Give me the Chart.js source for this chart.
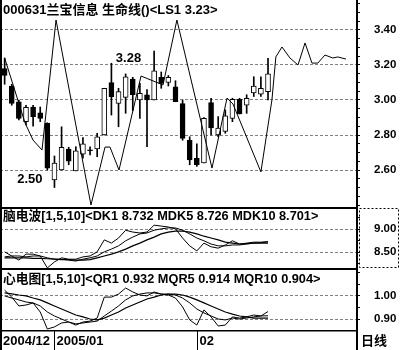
<!DOCTYPE html>
<html>
<head>
<meta charset="utf-8">
<script src="https://cdn.jsdelivr.net/npm/chart.js@4.4.1/dist/chart.umd.min.js"></script>
<style>
  html, body { margin: 0; padding: 0; background: #fff; }
  #wrap { position: relative; width: 400px; height: 350px; overflow: hidden; background: #fff; }
  canvas { position: absolute; left: 0; display: block; }
</style>
</head>
<body>
<div id="wrap">
  <canvas id="priceChart" width="400" height="207" style="top:0"></canvas>
  <canvas id="dkChart" width="400" height="61" style="top:207px"></canvas>
  <canvas id="qrChart" width="400" height="82" style="top:268px"></canvas>
</div>
<script>
// daily candles, one per trading day
const opens  = [3.18, 3.08, 2.99, 2.876, 2.96, 2.927, 2.867, 2.543, 2.60, 2.72, 2.595, 2.69, 2.71, 2.72, 2.80, 3.10, 2.98, 3.015, 3.12, 3.00, 3.03, 3.00, 3.13, 3.10, 3.075, 2.98, 2.77, 2.667, 2.64, 2.985, 2.80, 2.82, 2.895, 3.004, 2.97, 3.04, 3.034, 3.047];
const closes = [3.14, 2.98, 2.895, 2.958, 2.905, 2.895, 2.61, 2.64, 2.73, 2.65, 2.71, 2.75, 2.71, 2.79, 3.067, 3.019, 3.048, 3.133, 3.03, 3.038, 3.00, 3.167, 3.095, 3.13, 2.99, 2.78, 2.657, 2.63, 2.895, 2.84, 2.84, 2.91, 3.004, 2.92, 3.01, 3.08, 3.067, 3.149];
const highs  = [3.24, 3.09, 3.00, 2.97, 2.97, 2.96, 2.87, 2.68, 2.847, 2.73, 2.733, 2.785, 2.733, 2.81, 3.067, 3.21, 3.067, 3.149, 3.13, 3.095, 3.06, 3.28, 3.16, 3.14, 3.11, 3.00, 2.79, 2.75, 2.90, 3.01, 2.905, 2.943, 3.01, 3.01, 3.03, 3.133, 3.133, 3.238];
const lows   = [3.09, 2.97, 2.886, 2.857, 2.85, 2.876, 2.60, 2.50, 2.60, 2.63, 2.595, 2.667, 2.686, 2.676, 2.80, 2.914, 2.847, 2.924, 2.94, 2.895, 2.733, 3.00, 3.067, 3.08, 2.99, 2.77, 2.63, 2.62, 2.64, 2.80, 2.79, 2.81, 2.876, 2.92, 2.924, 3.02, 3.02, 3.00];

// 生命线 vertices (day position, price) - runs past the last candle
const lifeIdx = [0, 2.87, 3.99, 5.25, 7.22, 12.13, 14.1, 14.8, 16.07, 19.16, 22.25, 24.2, 29.13, 31.24, 32.08, 36.0, 37.55, 38.1, 38.96, 40.08, 41.21, 42.2, 43.17, 44.0, 45.0, 46.1, 46.8, 47.95];
const lifeVal = [3.24, 2.869, 2.771, 2.714, 3.457, 2.40, 2.731, 2.731, 2.60, 3.137, 3.086, 3.457, 2.611, 3.011, 2.977, 2.589, 3.0, 3.246, 3.303, 3.24, 3.20, 3.326, 3.211, 3.211, 3.257, 3.24, 3.246, 3.234];

// 脑电波
const dk1   = [8.51, 8.42, 8.33, 8.46, 8.46, 8.42, 8.16, 8.29, 8.38, 8.35, 8.35, 8.40, 8.42, 8.51, 8.77, 8.70, 8.81, 8.98, 8.94, 8.92, 8.94, 9.09, 9.07, 9.05, 9.01, 8.81, 8.64, 8.53, 8.70, 8.62, 8.59, 8.66, 8.75, 8.68, 8.70, 8.72, 8.72, 8.732];
const mdk5  = [8.40, 8.42, 8.42, 8.40, 8.42, 8.42, 8.38, 8.35, 8.35, 8.33, 8.31, 8.35, 8.38, 8.42, 8.51, 8.57, 8.64, 8.75, 8.83, 8.90, 8.92, 8.98, 9.01, 9.03, 9.03, 8.98, 8.90, 8.81, 8.75, 8.68, 8.64, 8.64, 8.66, 8.66, 8.68, 8.70, 8.71, 8.726];
const mdk10 = [8.38, 8.38, 8.38, 8.38, 8.37, 8.37, 8.36, 8.35, 8.34, 8.34, 8.33, 8.33, 8.34, 8.38, 8.42, 8.46, 8.51, 8.57, 8.64, 8.70, 8.77, 8.83, 8.90, 8.94, 8.96, 8.96, 8.94, 8.90, 8.85, 8.81, 8.77, 8.72, 8.70, 8.68, 8.69, 8.70, 8.70, 8.701];

// 心电图
const qr1   = [1.024, 0.994, 0.956, 0.96, 0.969, 0.93, 0.857, 0.866, 0.883, 0.887, 0.874, 0.887, 0.891, 0.904, 0.994, 0.994, 1.007, 1.033, 1.016, 1.003, 0.999, 1.016, 1.007, 1.003, 0.99, 0.952, 0.896, 0.874, 0.939, 0.909, 0.87, 0.874, 0.909, 0.904, 0.909, 0.917, 0.913, 0.932];
const mqr5  = [0.999, 0.99, 0.982, 0.973, 0.969, 0.956, 0.93, 0.913, 0.90, 0.887, 0.879, 0.883, 0.887, 0.891, 0.913, 0.934, 0.956, 0.982, 0.999, 1.007, 1.012, 1.012, 1.007, 1.007, 1.003, 0.99, 0.969, 0.943, 0.926, 0.913, 0.90, 0.896, 0.904, 0.90, 0.904, 0.909, 0.913, 0.914];
const mqr10 = [1.012, 1.008, 1.003, 0.999, 0.99, 0.982, 0.969, 0.956, 0.943, 0.93, 0.917, 0.909, 0.90, 0.896, 0.904, 0.917, 0.93, 0.947, 0.96, 0.973, 0.986, 0.994, 1.003, 1.007, 1.007, 1.003, 0.994, 0.982, 0.969, 0.956, 0.943, 0.93, 0.921, 0.913, 0.909, 0.904, 0.904, 0.904];

// axis labels
const priceTicks = [2.6, 2.8, 3.0, 3.2, 3.4];
const dkTicks = [8.5, 9.0];
const qrTicks = [0.9, 1.0];
const dateLabels = ['2004/12', '2005/01', '02'];
const dateStarts = [0, 7, 27];
const stockCode = '000631';
const stockName = '兰宝信息';

const FONT_STACK = '"Liberation Sans", "Noto Sans CJK SC", sans-serif';
const TITLE_FONT = 'bold 13px ' + FONT_STACK;
const TEXT_FONT = 'bold 12.75px ' + FONT_STACK;
const last = a => a[a.length - 1];

const xAxis = { type: 'linear', display: false, min: -0.65, max: 49.5, offset: false };

function rightAxis(min, max, majors, minorStep) {
  const isMajor = v => majors.some(m => Math.abs(m - v) < 1e-6);
  return {
    position: 'right',
    min: min,
    max: max,
    afterBuildTicks(scale) {
      const list = [];
      for (let k = Math.ceil(min / minorStep - 1e-9); k * minorStep <= max + 1e-9; k++) {
        list.push({ value: +(k * minorStep).toFixed(4) });
      }
      scale.ticks = list;
    },
    afterFit(scale) {
      scale.width = 43;
      scale.paddingTop = 0;
      scale.paddingBottom = 0;
    },
    ticks: {
      autoSkip: false,
      padding: 14,
      color: '#000',
      font: { family: '"Liberation Sans", sans-serif', size: 11.5, weight: 'bold' },
      callback: v => isMajor(v) ? v.toFixed(2) : ''
    },
    grid: {
      color: c => isMajor(c.tick.value) ? '#808080' : 'rgba(0,0,0,0)',
      tickColor: '#000',
      tickLength: 3,
      lineWidth: 1
    },
    border: { display: true, color: '#000', width: 2, dash: [3, 2] }
  };
}

// frame, title and extra decorations of one pane
function paneDecor(title, titleFont, titleY, topLine, extra) {
  return {
    id: 'paneDecor',
    afterDraw(chart) {
      const { ctx, chartArea: a } = chart;
      ctx.save();
      ctx.strokeStyle = '#000';
      ctx.fillStyle = '#000';
      ctx.lineWidth = 2;
      ctx.beginPath(); ctx.moveTo(1, 0); ctx.lineTo(1, chart.height); ctx.stroke();
      if (topLine) {
        ctx.beginPath(); ctx.moveTo(0, 1); ctx.lineTo(a.right, 1); ctx.stroke();
      }
      ctx.font = titleFont;
      ctx.textAlign = 'left';
      ctx.textBaseline = 'middle';
      ctx.fillText(title, 3, titleY);
      if (extra) extra(chart, ctx);
      ctx.restore();
    }
  };
}

// high / low markers on the candle pane
function drawExtremes(chart, ctx) {
  const { x, y } = chart.scales;
  const hi = Math.max(...highs), lo = Math.min(...lows);
  const hiIdx = highs.indexOf(hi), loIdx = lows.indexOf(lo);
  ctx.font = 'bold 13px "Liberation Sans", sans-serif';
  ctx.textAlign = 'right';
  ctx.textBaseline = 'alphabetic';
  ctx.fillText(hi.toFixed(2), x.getPixelForValue(hiIdx) - 13, y.getPixelForValue(hi) + 11);
  ctx.fillText(lo.toFixed(2), x.getPixelForValue(loIdx) - 12, y.getPixelForValue(lo) - 5);
}

function drawDotBox(chart, ctx) {
  ctx.lineWidth = 1;
  ctx.setLineDash([2, 2]);
  ctx.strokeRect(359.5, 1.5, 39, 59);
  ctx.setLineDash([]);
}

function drawDates(chart, ctx) {
  const a = chart.chartArea, x = chart.scales.x;
  ctx.lineWidth = 1.5;
  ctx.beginPath(); ctx.moveTo(0, a.bottom + 0.75); ctx.lineTo(a.right, a.bottom + 0.75); ctx.stroke();
  ctx.lineWidth = 2;
  ctx.beginPath(); ctx.moveTo(a.right, a.bottom); ctx.lineTo(a.right, chart.height); ctx.stroke();
  const ty = (a.bottom + chart.height) / 2 + 1;
  ctx.font = TITLE_FONT;
  ctx.textAlign = 'left';
  ctx.textBaseline = 'middle';
  dateLabels.forEach((lab, k) => {
    let px = 3;
    if (dateStarts[k] > 0) {
      px = Math.round(x.getPixelForValue(dateStarts[k])) + 0.5;
      ctx.lineWidth = 1;
      ctx.beginPath(); ctx.moveTo(px, a.bottom); ctx.lineTo(px, chart.height); ctx.stroke();
      px += 2;
    }
    ctx.fillText(lab, px, ty);
  });
  ctx.fillText('日线', a.right + 4, ty);
}

const baseOptions = (yAxis, padding) => ({
  responsive: false,
  animation: false,
  layout: { padding: padding || 0 },
  plugins: { legend: { display: false }, tooltip: { enabled: false } },
  scales: { x: xAxis, y: yAxis }
});

const lineSet = (values, width) => ({
  type: 'line',
  data: values.map((v, i) => ({ x: i, y: v })),
  borderColor: '#000',
  borderWidth: width,
  pointRadius: 0,
  tension: 0
});

const priceChart = new Chart(document.getElementById('priceChart'), {
  type: 'bar',
  data: {
    datasets: [
      Object.assign(lineSet([], 1), {
        data: lifeIdx.map((x, i) => ({ x: x, y: lifeVal[i] })),
        order: 0
      }),
      {
        data: opens.map((o, i) => ({ x: i, y: [o, closes[i]] })),
        backgroundColor: opens.map((o, i) => closes[i] > o ? '#fff' : '#000'),
        borderColor: '#000',
        borderWidth: 1,
        borderSkipped: false,
        barThickness: 5,
        minBarLength: 1,
        grouped: false,
        order: 1
      },
      {
        data: lows.map((l, i) => ({ x: i, y: [l, highs[i]] })),
        backgroundColor: '#000',
        barThickness: 1,
        grouped: false,
        order: 2
      }
    ]
  },
  options: baseOptions(rightAxis(2.3886, 3.5714, priceTicks, 0.05)),
  plugins: [paneDecor(stockCode + stockName + ' 生命线()<LS1 ' + last(lifeVal).toFixed(2) + '>', TITLE_FONT, 10, false, drawExtremes)]
});

const dkChart = new Chart(document.getElementById('dkChart'), {
  type: 'line',
  data: { datasets: [lineSet(dk1, 1), lineSet(mdk5, 1), lineSet(mdk10, 1.2)] },
  options: baseOptions(rightAxis(8.1587, 9.4848, dkTicks, 0.25)),
  plugins: [paneDecor('脑电波[1,5,10]<DK1 ' + last(dk1).toFixed(3) + ' MDK5 ' + last(mdk5).toFixed(3) + ' MDK10 ' + last(mdk10).toFixed(3) + '>', TEXT_FONT, 9, true, drawDotBox)]
});

const qrChart = new Chart(document.getElementById('qrChart'), {
  type: 'line',
  data: { datasets: [lineSet(qr1, 1), lineSet(mqr5, 1), lineSet(mqr10, 1.2)] },
  options: baseOptions(rightAxis(0.8528, 1.1189, qrTicks, 0.05), { bottom: 20 }),
  plugins: [paneDecor('心电图[1,5,10]<QR1 ' + last(qr1).toFixed(3) + ' MQR5 ' + last(mqr5).toFixed(3) + ' MQR10 ' + last(mqr10).toFixed(3) + '>', TEXT_FONT, 11, true, drawDates)]
});
</script>
</body>
</html>
